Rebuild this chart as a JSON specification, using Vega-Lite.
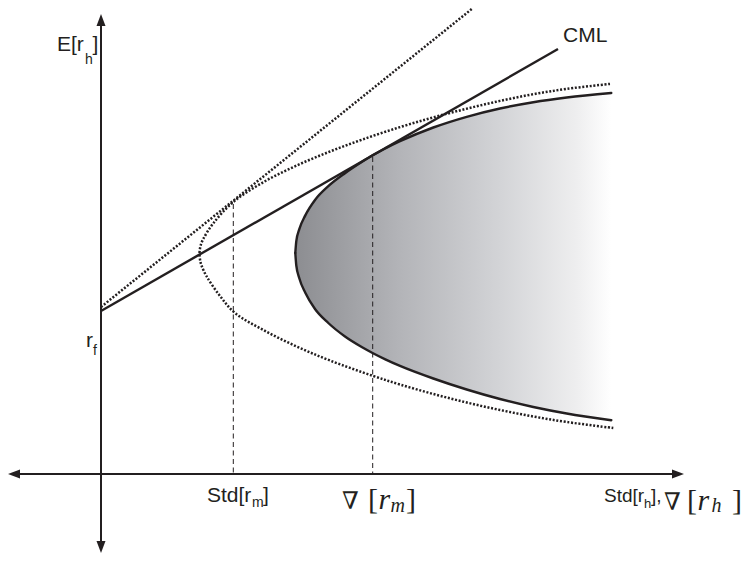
{
  "$schema": "https://vega.github.io/schema/vega-lite/v6.json",
  "width": 747,
  "height": 561,
  "autosize": "none",
  "padding": 0,
  "background": "white",
  "config": {"view": {"stroke": null}},
  "datasets": {
    "frontier": [
      {"x": 1.943, "up": 2.21, "lo": 2.21},
      {"x": 1.953, "up": 2.329, "lo": 2.085},
      {"x": 1.983, "up": 2.448, "lo": 1.958},
      {"x": 2.043, "up": 2.586, "lo": 1.812},
      {"x": 2.14, "up": 2.74, "lo": 1.65},
      {"x": 2.273, "up": 2.878, "lo": 1.51},
      {"x": 2.44, "up": 3.008, "lo": 1.375},
      {"x": 2.607, "up": 3.12, "lo": 1.27},
      {"x": 2.72, "up": 3.19, "lo": 1.208},
      {"x": 2.843, "up": 3.256, "lo": 1.147},
      {"x": 2.99, "up": 3.328, "lo": 1.081},
      {"x": 3.323, "up": 3.465, "lo": 0.955},
      {"x": 3.657, "up": 3.572, "lo": 0.845},
      {"x": 3.99, "up": 3.655, "lo": 0.75},
      {"x": 4.323, "up": 3.718, "lo": 0.67},
      {"x": 4.657, "up": 3.765, "lo": 0.605},
      {"x": 5.103, "up": 3.81, "lo": 0.538}
    ],
    "outer": [
      {"i": 1, "x": 5.09, "y": 3.901},
      {"i": 2, "x": 4.657, "y": 3.851},
      {"i": 3, "x": 4.323, "y": 3.798},
      {"i": 4, "x": 3.99, "y": 3.731},
      {"i": 5, "x": 3.657, "y": 3.653},
      {"i": 6, "x": 3.323, "y": 3.566},
      {"i": 7, "x": 2.99, "y": 3.469},
      {"i": 8, "x": 2.623, "y": 3.348},
      {"i": 9, "x": 2.29, "y": 3.225},
      {"i": 10, "x": 1.957, "y": 3.085},
      {"i": 11, "x": 1.623, "y": 2.918},
      {"i": 12, "x": 1.323, "y": 2.72},
      {"i": 13, "x": 1.123, "y": 2.507},
      {"i": 14, "x": 1.02, "y": 2.345},
      {"i": 15, "x": 0.995, "y": 2.28},
      {"i": 16, "x": 0.985, "y": 2.2},
      {"i": 17, "x": 0.995, "y": 2.12},
      {"i": 18, "x": 1.007, "y": 2.08},
      {"i": 19, "x": 1.057, "y": 1.975},
      {"i": 20, "x": 1.19, "y": 1.78},
      {"i": 21, "x": 1.34, "y": 1.61},
      {"i": 22, "x": 1.623, "y": 1.44},
      {"i": 23, "x": 1.957, "y": 1.275},
      {"i": 24, "x": 2.29, "y": 1.135},
      {"i": 25, "x": 2.723, "y": 0.98},
      {"i": 26, "x": 2.99, "y": 0.895},
      {"i": 27, "x": 3.323, "y": 0.8},
      {"i": 28, "x": 3.657, "y": 0.715},
      {"i": 29, "x": 3.99, "y": 0.64},
      {"i": 30, "x": 4.323, "y": 0.575},
      {"i": 31, "x": 4.657, "y": 0.52},
      {"i": 32, "x": 5.123, "y": 0.46}
    ],
    "segments": [
      {"kind": "axis", "x": -0.87, "y": 0, "x2": 5.77, "y2": 0},
      {"kind": "axis", "x": 0, "y": -0.73, "x2": 0, "y2": 4.54},
      {"kind": "cml", "x": 0, "y": 1.63, "x2": 4.57, "y2": 4.25},
      {"kind": "tangent", "x": 0, "y": 1.67, "x2": 3.72, "y2": 4.66},
      {"kind": "guide", "x": 1.323, "y": 2.7, "x2": 1.323, "y2": 0},
      {"kind": "guide", "x": 2.717, "y": 3.17, "x2": 2.717, "y2": 0}
    ],
    "arrows": [
      {"dir": "up", "x": 0, "y": 4.54},
      {"dir": "down", "x": 0, "y": -0.73},
      {"dir": "left", "x": -0.87, "y": 0},
      {"dir": "right", "x": 5.77, "y": 0}
    ],
    "labels": [
      {"role": "main", "text": "E[r", "x": -0.44, "y": 4.23},
      {"role": "sub", "text": "h", "x": -0.16, "y": 4.1},
      {"role": "main", "text": "]", "x": -0.085, "y": 4.23},
      {"role": "main", "text": "r", "x": -0.15, "y": 1.27},
      {"role": "sub", "text": "f", "x": -0.08, "y": 1.19},
      {"role": "main", "text": "CML", "x": 4.62, "y": 4.32},
      {"role": "main", "text": "Std[r", "x": 1.06, "y": -0.28},
      {"role": "sub", "text": "m", "x": 1.51, "y": -0.33},
      {"role": "main", "text": "]", "x": 1.62, "y": -0.28},
      {"role": "mainR", "text": "Std[r", "x": 5.03, "y": -0.28},
      {"role": "subR", "text": "h", "x": 5.43, "y": -0.34},
      {"role": "mainR", "text": "],", "x": 5.5, "y": -0.28},
      {"role": "nabla", "text": "∇", "x": 2.41, "y": -0.35},
      {"role": "bracket", "text": "[", "x": 2.67, "y": -0.35},
      {"role": "var", "text": "r", "x": 2.775, "y": -0.35},
      {"role": "index", "text": "m", "x": 2.895, "y": -0.38},
      {"role": "bracket", "text": "]", "x": 3.05, "y": -0.35},
      {"role": "nabla", "text": "∇", "x": 5.63, "y": -0.36},
      {"role": "bracket", "text": "[", "x": 5.86, "y": -0.36},
      {"role": "var", "text": "r", "x": 5.965, "y": -0.36},
      {"role": "index", "text": "h", "x": 6.105, "y": -0.38},
      {"role": "bracket", "text": "]", "x": 6.31, "y": -0.36}
    ]
  },
  "encoding": {
    "x": {"field": "x", "type": "quantitative", "axis": null,
          "scale": {"domain": [-1.01, 6.46], "nice": false, "zero": false}},
    "y": {"field": "y", "type": "quantitative", "axis": null,
          "scale": {"domain": [-0.87, 4.74], "nice": false, "zero": false}}
  },
  "layer": [
    {
      "data": {"name": "frontier"},
      "mark": {
        "type": "area",
        "interpolate": "monotone",
        "opacity": 1,
        "color": {
          "gradient": "linear",
          "x1": 0, "y1": 0, "x2": 1, "y2": 0,
          "stops": [
            {"offset": 0, "color": "#8c8d91"},
            {"offset": 0.33, "color": "#b3b4b8"},
            {"offset": 0.64, "color": "#d2d3d6"},
            {"offset": 0.89, "color": "#eeeeef"},
            {"offset": 1, "color": "#ffffff"}
          ]
        }
      },
      "encoding": {
        "y": {"field": "up", "type": "quantitative", "axis": null,
              "scale": {"domain": [-0.87, 4.74], "nice": false, "zero": false}},
        "y2": {"field": "lo"}
      }
    },
    {
      "data": {"name": "outer"},
      "mark": {"type": "line", "interpolate": "catmull-rom", "color": "#231f20",
               "strokeWidth": 2.5, "strokeDash": [2, 1.7]},
      "encoding": {"order": {"field": "i", "type": "quantitative"}}
    },
    {
      "data": {"name": "frontier"},
      "mark": {"type": "line", "interpolate": "monotone", "color": "#231f20",
               "strokeWidth": 2.4, "strokeCap": "round"},
      "encoding": {
        "y": {"field": "up", "type": "quantitative", "axis": null,
              "scale": {"domain": [-0.87, 4.74], "nice": false, "zero": false}}
      }
    },
    {
      "data": {"name": "frontier"},
      "mark": {"type": "line", "interpolate": "monotone", "color": "#231f20",
               "strokeWidth": 2.4, "strokeCap": "round"},
      "encoding": {
        "y": {"field": "lo", "type": "quantitative", "axis": null,
              "scale": {"domain": [-0.87, 4.74], "nice": false, "zero": false}}
      }
    },
    {
      "data": {"name": "segments"},
      "transform": [{"filter": "datum.kind === 'guide'"}],
      "mark": {"type": "rule", "color": "#231f20", "strokeWidth": 1, "strokeDash": [5, 3.5]},
      "encoding": {"x2": {"field": "x2"}, "y2": {"field": "y2"}}
    },
    {
      "data": {"name": "segments"},
      "transform": [{"filter": "datum.kind === 'tangent'"}],
      "mark": {"type": "rule", "color": "#231f20", "strokeWidth": 2.5, "strokeDash": [2, 1.7]},
      "encoding": {"x2": {"field": "x2"}, "y2": {"field": "y2"}}
    },
    {
      "data": {"name": "segments"},
      "transform": [{"filter": "datum.kind === 'cml'"}],
      "mark": {"type": "rule", "color": "#231f20", "strokeWidth": 2.4},
      "encoding": {"x2": {"field": "x2"}, "y2": {"field": "y2"}}
    },
    {
      "data": {"name": "segments"},
      "transform": [{"filter": "datum.kind === 'axis'"}],
      "mark": {"type": "rule", "color": "#231f20", "strokeWidth": 2},
      "encoding": {"x2": {"field": "x2"}, "y2": {"field": "y2"}}
    },
    {
      "data": {"name": "arrows"},
      "mark": {"type": "point", "filled": true, "color": "#231f20", "opacity": 1, "size": 144},
      "encoding": {
        "shape": {
          "field": "dir", "type": "nominal", "legend": null,
          "scale": {
            "domain": ["up", "down", "left", "right"],
            "range": [
              "M0,-1L0.75,1L-0.75,1Z",
              "M0,1L0.75,-1L-0.75,-1Z",
              "M-1,0L1,0.75L1,-0.75Z",
              "M1,0L-1,0.75L-1,-0.75Z"
            ]
          }
        }
      }
    },
    {
      "data": {"name": "labels"},
      "transform": [{"filter": "datum.role === 'main'"}],
      "mark": {"type": "text", "align": "left", "baseline": "alphabetic",
               "font": "Liberation Sans", "fontSize": 21, "color": "#231f20"},
      "encoding": {"text": {"field": "text"}}
    },
    {
      "data": {"name": "labels"},
      "transform": [{"filter": "datum.role === 'sub'"}],
      "mark": {"type": "text", "align": "left", "baseline": "alphabetic",
               "font": "Liberation Sans", "fontSize": 14, "color": "#231f20"},
      "encoding": {"text": {"field": "text"}}
    },
    {
      "data": {"name": "labels"},
      "transform": [{"filter": "datum.role === 'mainR'"}],
      "mark": {"type": "text", "align": "left", "baseline": "alphabetic",
               "font": "Liberation Sans", "fontSize": 19, "color": "#231f20"},
      "encoding": {"text": {"field": "text"}}
    },
    {
      "data": {"name": "labels"},
      "transform": [{"filter": "datum.role === 'subR'"}],
      "mark": {"type": "text", "align": "left", "baseline": "alphabetic",
               "font": "Liberation Sans", "fontSize": 13, "color": "#231f20"},
      "encoding": {"text": {"field": "text"}}
    },
    {
      "data": {"name": "labels"},
      "transform": [{"filter": "datum.role === 'nabla'"}],
      "mark": {"type": "text", "align": "left", "baseline": "alphabetic",
               "font": "DejaVu Serif", "fontSize": 24, "color": "#231f20"},
      "encoding": {"text": {"field": "text"}}
    },
    {
      "data": {"name": "labels"},
      "transform": [{"filter": "datum.role === 'bracket'"}],
      "mark": {"type": "text", "align": "left", "baseline": "alphabetic",
               "font": "Liberation Serif", "fontSize": 30, "color": "#231f20"},
      "encoding": {"text": {"field": "text"}}
    },
    {
      "data": {"name": "labels"},
      "transform": [{"filter": "datum.role === 'var'"}],
      "mark": {"type": "text", "align": "left", "baseline": "alphabetic",
               "font": "Liberation Serif", "fontStyle": "italic", "fontSize": 30, "color": "#231f20"},
      "encoding": {"text": {"field": "text"}}
    },
    {
      "data": {"name": "labels"},
      "transform": [{"filter": "datum.role === 'index'"}],
      "mark": {"type": "text", "align": "left", "baseline": "alphabetic",
               "font": "Liberation Serif", "fontStyle": "italic", "fontSize": 20, "color": "#231f20"},
      "encoding": {"text": {"field": "text"}}
    }
  ]
}
